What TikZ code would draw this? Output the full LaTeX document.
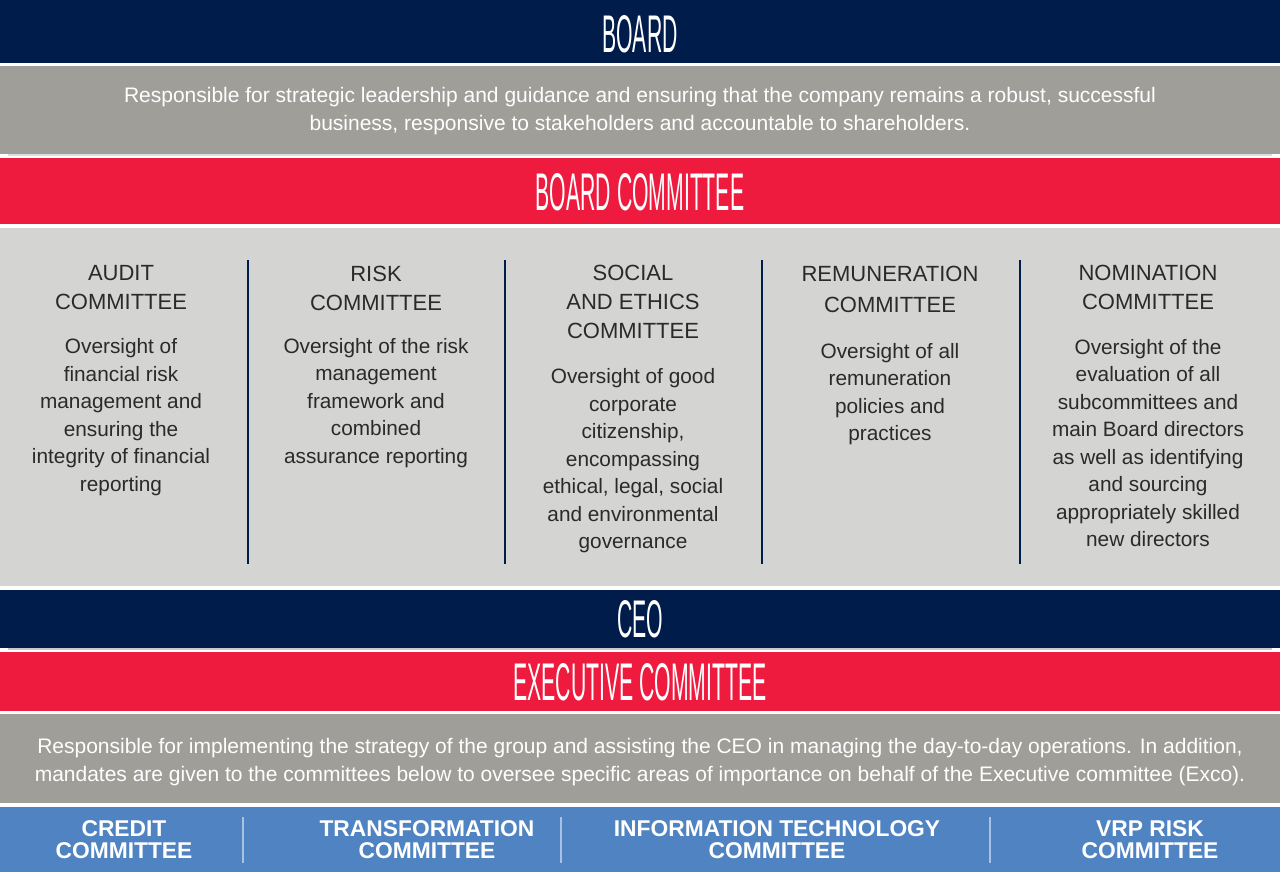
\documentclass[tikz,border=0pt]{standalone}
\usepackage{fontspec}
\setmainfont{Liberation Sans}
\newfontfamily\bannerfont[FakeStretch=0.4]{Liberation Sans}
\definecolor{govnavy}{HTML}{001C4A}
\definecolor{govred}{HTML}{EE1B3E}
\definecolor{govgrey}{HTML}{9F9E99}
\definecolor{govlight}{HTML}{D4D4D2}
\definecolor{govblue}{HTML}{4F83C2}
\definecolor{govtext}{HTML}{2A2A2A}
\definecolor{govrule}{HTML}{A9C1E0}
\tikzstyle{govbanner}=[
    inner sep=0pt,
    text=white,
    font=\bannerfont\fontsize{53}{53}\selectfont,
]
\tikzstyle{govremit}=[
    inner sep=0pt, align=center,
    text=white,
    font=\fontsize{21}{27.5}\selectfont,
]
\tikzstyle{comhead}=[
    inner sep=0pt, align=center,
    text=govtext,
    font=\fontsize{22}{29}\selectfont,
]
\tikzstyle{combody}=[
    inner sep=0pt, align=center,
    text=govtext,
    font=\fontsize{20.8}{27.5}\selectfont,
]
\tikzstyle{subcom}=[
    inner sep=0pt, align=center,
    text=white,
    font=\bfseries\fontsize{22.8}{22}\selectfont,
]

\begin{document}
\begin{tikzpicture}[x=1pt, y=-1pt]
        \useasboundingbox (0,0) rectangle (1280,872);
        % bands
        \fill[govnavy] (0,0) rectangle (1280,63);
        \fill[govgrey] (0,66) rectangle (1280,154);
        \fill[govlight!80!white] (8,154) rectangle (1272,156);
        \fill[govred] (0,158) rectangle (1280,224);
        \fill[govlight] (0,228) rectangle (1280,586);
        \fill[govnavy] (0,590) rectangle (1280,648);
        \fill[govlight!80!govgrey] (8,648) rectangle (1272,650);
        \fill[govred] (0,652) rectangle (1280,711);
        \fill[govgrey] (0,714) rectangle (1280,803);
        \fill[govblue] (0,807) rectangle (1280,872);
        % board
        \node (board) at (640, 34) [govbanner] {BOARD};
        \node (boardremit) at (640, 111) [govremit] {Responsible for strategic leadership and guidance and ensuring that the company remains a robust, successful\\business, responsive to stakeholders and accountable to shareholders.};
        \node (boardcom) at (640, 192) [govbanner] {BOARD COMMITTEE};
        % board committees
        \node (audithead) at (121, 288) [comhead] {AUDIT\\COMMITTEE};
        \node (auditbody) at (121, 417) [combody] {Oversight of\\financial risk\\management and\\ensuring the\\integrity of financial\\reporting};
        \node (riskhead) at (376, 288) [comhead] {RISK\\COMMITTEE};
        \node (riskbody) at (376, 403) [combody] {Oversight of the risk\\management\\framework and\\combined\\assurance reporting};
        \node (sechead) at (633, 302) [comhead] {SOCIAL\\AND ETHICS\\COMMITTEE};
        \node (secbody) at (633, 461) [combody] {Oversight of good\\corporate\\citizenship,\\encompassing\\ethical, legal, social\\and environmental\\governance};
        \node (remhead) at (890, 289) [comhead, font=\fontsize{22}{31}\selectfont] {REMUNERATION\\COMMITTEE};
        \node (rembody) at (890, 394) [combody] {Oversight of all\\remuneration\\policies and\\practices};
        \node (nomhead) at (1148, 287) [comhead] {NOMINATION\\COMMITTEE};
        \node (nombody) at (1148, 443) [combody] {Oversight of the\\evaluation of all\\subcommittees and\\main Board directors\\as well as identifying\\and sourcing\\appropriately skilled\\new directors};
        \draw[govnavy, line width=2pt] (248, 260) -- (248, 564);
        \draw[govnavy, line width=2pt] (505, 260) -- (505, 564);
        \draw[govnavy, line width=2pt] (762, 260) -- (762, 564);
        \draw[govnavy, line width=2pt] (1020, 260) -- (1020, 564);
        % ceo and exco
        \node (ceo) at (640, 619) [govbanner] {CEO};
        \node (exco) at (640, 682) [govbanner] {EXECUTIVE COMMITTEE};
        \node (excoremit) at (640, 762) [govremit] {Responsible for implementing the strategy of the group and assisting the CEO in managing the day-to-day operations. In addition,\\mandates are given to the committees below to oversee specific areas of importance on behalf of the Executive committee (Exco).};
        % exco subcommittees
        \node (credit) at (124, 840) [subcom] {CREDIT\\COMMITTEE};
        \node (transform) at (427, 840) [subcom] {TRANSFORMATION\\COMMITTEE};
        \node (infotech) at (777, 840) [subcom] {INFORMATION TECHNOLOGY\\COMMITTEE};
        \node (vrprisk) at (1150, 840) [subcom] {VRP RISK\\COMMITTEE};
        \draw[govrule, line width=1.5pt] (243, 817) -- (243, 863);
        \draw[govrule, line width=1.5pt] (561, 817) -- (561, 863);
        \draw[govrule, line width=1.5pt] (990, 817) -- (990, 863);
    \end{tikzpicture}
\end{document}
